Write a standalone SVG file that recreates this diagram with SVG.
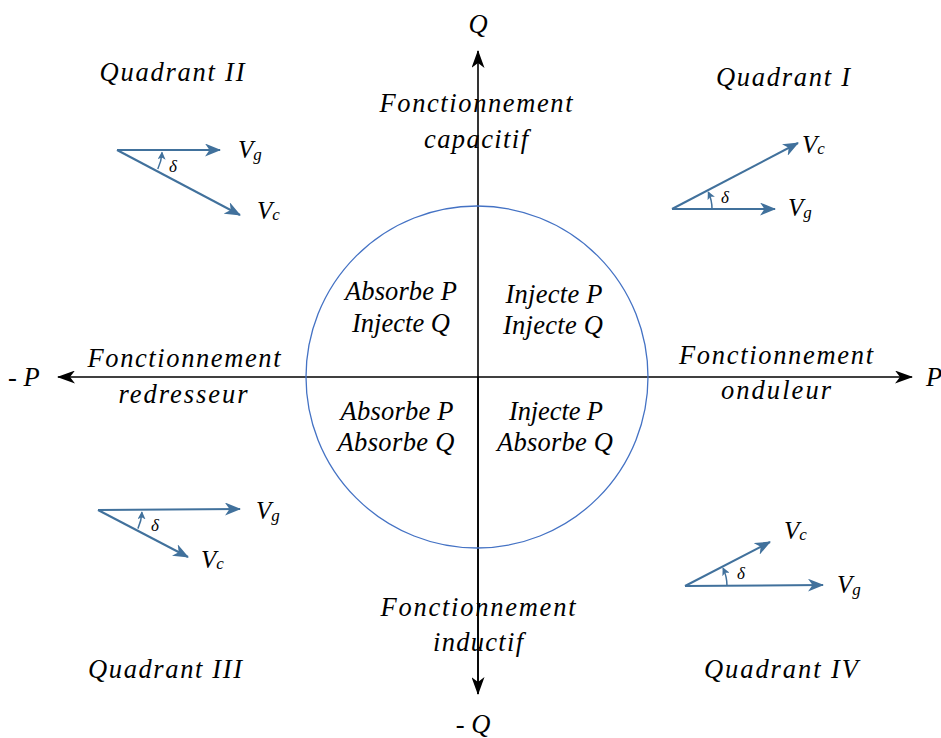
<svg xmlns="http://www.w3.org/2000/svg" width="941" height="738" viewBox="0 0 941 738">
<style>
text{font-family:"Liberation Serif","Times New Roman",serif;font-style:italic;fill:#000;}
.t{font-size:26.5px;text-anchor:middle;}
.v{font-size:25px;}
.s{font-size:17px;}
.d{font-size:17px;}
.axis{stroke:#000;stroke-width:1.6;fill:none;}
.vec{stroke:#41719C;stroke-width:2;fill:none;}
.arc{stroke:#41719C;stroke-width:1.5;fill:none;}
</style>
<defs>
<marker id="ak" viewBox="0 0 18 13" refX="17" refY="6.5" markerWidth="18" markerHeight="13" markerUnits="userSpaceOnUse" orient="auto">
<path d="M0 0 L18 6.5 L0 13 L5 6.5 Z" fill="#000"/>
</marker>
<marker id="ab" viewBox="0 0 16 13" refX="15" refY="6.5" markerWidth="16" markerHeight="13" markerUnits="userSpaceOnUse" orient="auto">
<path d="M0 0 L16 6.5 L0 13 L4.5 6.5 Z" fill="#41719C"/>
</marker>
<marker id="as" viewBox="0 0 8 8" refX="7" refY="4" markerWidth="8" markerHeight="8" markerUnits="userSpaceOnUse" orient="auto">
<path d="M0 0 L8 4 L0 8 L2 4 Z" fill="#41719C"/>
</marker>
</defs>

<g id="connectors">
<line class="axis" x1="478" y1="694" x2="478" y2="51" marker-end="url(#ak)"/>
<line class="axis" x1="478" y1="377" x2="478" y2="694" marker-end="url(#ak)"/>
<line class="axis" x1="478" y1="377" x2="912" y2="377" marker-end="url(#ak)"/>
<line class="axis" x1="478" y1="377" x2="58" y2="377" marker-end="url(#ak)"/>
</g>

<g id="circle">
<circle cx="477" cy="377" r="171" fill="none" stroke="#4472C4" stroke-width="1.3"/>
</g>

<g id="axis-labels">
<text class="t" x="478" y="33">Q</text>
<text class="t" x="473" y="733">- Q</text>
<text class="t" x="8" y="386" style="text-anchor:start">- P</text>
<text class="t" x="926" y="386" style="text-anchor:start">P</text>
</g>

<g id="capacitif">
<text class="t" x="476" y="112" textLength="193">Fonctionnement</text>
<text class="t" x="476" y="148" textLength="104">capacitif</text>
</g>
<g id="inductif">
<text class="t" x="478" y="616" textLength="195">Fonctionnement</text>
<text class="t" x="478" y="651" textLength="90">inductif</text>
</g>
<g id="redresseur">
<text class="t" x="184" y="367" textLength="193">Fonctionnement</text>
<text class="t" x="183" y="403" textLength="129">redresseur</text>
</g>
<g id="onduleur">
<text class="t" x="776" y="364" textLength="194">Fonctionnement</text>
<text class="t" x="776" y="399" textLength="110">onduleur</text>
</g>

<g id="q2-inner">
<text class="t" x="401" y="300" textLength="112">Absorbe P</text>
<text class="t" x="401" y="332" textLength="98">Injecte Q</text>
</g>
<g id="q1-inner">
<text class="t" x="554" y="303" textLength="97">Injecte P</text>
<text class="t" x="553" y="334" textLength="100">Injecte Q</text>
</g>
<g id="q3-inner">
<text class="t" x="397" y="420" textLength="113">Absorbe P</text>
<text class="t" x="396" y="451" textLength="117">Absorbe Q</text>
</g>
<g id="q4-inner">
<text class="t" x="556" y="420" textLength="94">Injecte P</text>
<text class="t" x="555" y="451" textLength="116">Absorbe Q</text>
</g>

<g id="quadrant-labels">
<text class="t" x="172" y="81" textLength="145">Quadrant II</text>
<text class="t" x="783" y="86" textLength="134">Quadrant I</text>
<text class="t" x="165" y="678" textLength="154">Quadrant III</text>
<text class="t" x="781" y="678" textLength="154">Quadrant IV</text>
</g>

<g id="phasor-q2">
<line class="vec" x1="117" y1="150" x2="220" y2="150" marker-end="url(#ab)"/>
<line class="vec" x1="117" y1="150" x2="240" y2="215" marker-end="url(#ab)"/>
<path class="arc" d="M157.8 169 A45 45 0 0 0 162 152.5" marker-end="url(#as)"/>
<text class="d" x="169" y="172">δ</text>
<text class="v" x="238" y="158">V<tspan class="s" dy="2">g</tspan></text>
<text class="v" x="257" y="219">V<tspan class="s" dy="1">c</tspan></text>
</g>

<g id="phasor-q1">
<line class="vec" x1="672" y1="209" x2="775" y2="209" marker-end="url(#ab)"/>
<line class="vec" x1="672" y1="209" x2="798" y2="143" marker-end="url(#ab)"/>
<path class="arc" d="M712 209 A40 40 0 0 0 708.3 192.1" marker-end="url(#as)"/>
<text class="d" x="721" y="203">δ</text>
<text class="v" x="802" y="153">V<tspan class="s" dy="1">c</tspan></text>
<text class="v" x="788" y="216">V<tspan class="s" dy="2">g</tspan></text>
</g>

<g id="phasor-q3">
<line class="vec" x1="98" y1="510" x2="240" y2="509" marker-end="url(#ab)"/>
<line class="vec" x1="98" y1="510" x2="188" y2="557" marker-end="url(#ab)"/>
<path class="arc" d="M137.9 528.6 A44 44 0 0 0 141.9 512.3" marker-end="url(#as)"/>
<text class="d" x="151" y="531">δ</text>
<text class="v" x="256" y="519">V<tspan class="s" dy="2">g</tspan></text>
<text class="v" x="201" y="568">V<tspan class="s" dy="1">c</tspan></text>
</g>

<g id="phasor-q4">
<line class="vec" x1="685" y1="586" x2="823" y2="585" marker-end="url(#ab)"/>
<line class="vec" x1="685" y1="586" x2="770" y2="542" marker-end="url(#ab)"/>
<path class="arc" d="M727 586 A42 42 0 0 0 723.1 568.2" marker-end="url(#as)"/>
<text class="d" x="737" y="579">δ</text>
<text class="v" x="784" y="539">V<tspan class="s" dy="1">c</tspan></text>
<text class="v" x="837" y="593">V<tspan class="s" dy="2">g</tspan></text>
</g>
</svg>
